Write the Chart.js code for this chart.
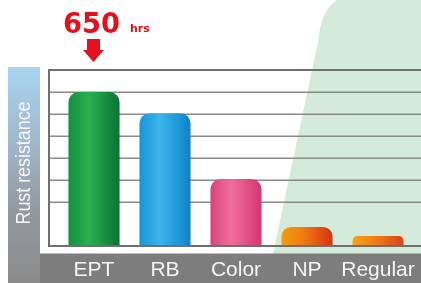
<!DOCTYPE html>
<html>
<head>
<meta charset="utf-8">
<script src="https://cdn.jsdelivr.net/npm/chart.js@4/dist/chart.umd.min.js"></script>
<style>
  html, body { margin: 0; padding: 0; background: #fff; }
  canvas { display: block; }
</style>
</head>
<body>
<canvas id="rustChart" width="421" height="283"></canvas>
<script>
// chart data
const categories = ['EPT', 'RB', 'Color', 'NP', 'Regular'];
const rustHours = [650, 560, 283, 80, 42];
const gridStep = 650 / 7;          // one grid line = 650/7 hrs
const gridCount = 8;
const highlightLabel = '650';
const highlightUnit = 'hrs';
const axisTitle = 'Rust resistance';

// left, middle, right colour of each bar
const barStops = [
  ['#14903f', '#2bb050', '#0a7235'],
  ['#1896d6', '#3cb6ee', '#0c82c8'],
  ['#d8427a', '#ef6f9c', '#d33672'],
  ['#f39c12', '#f07f12', '#d5330f'],
  ['#f5a21a', '#f08516', '#d9431a']
];

const barPct = 0.72;

function barFill(ctx) {
  const chart = ctx.chart;
  const xs = chart.scales.x;
  const i = ctx.dataIndex;
  if (!xs || i === undefined) return barStops[0][1];
  const cx = xs.getPixelForValue(i);
  const half = xs.width / categories.length * barPct / 2;
  if (!isFinite(cx) || !isFinite(half) || half <= 0) return barStops[i][1];
  const g = chart.ctx.createLinearGradient(cx - half, 0, cx + half, 0);
  g.addColorStop(0, barStops[i][0]);
  g.addColorStop(0.4, barStops[i][1]);
  g.addColorStop(1, barStops[i][2]);
  return g;
}

// background, frame, grid and the annotation
const decor = {
  id: 'decor',
  beforeDraw(chart) {
    const c = chart.ctx;
    const W = chart.width, H = chart.height;
    c.save();
    c.fillStyle = '#ffffff';
    c.fillRect(0, 0, W, H);

    // light green area on the right
    c.beginPath();
    c.moveTo(337, 0);
    c.quadraticCurveTo(321, 10, 318, 42);
    c.lineTo(271, 263);
    c.lineTo(271, H);
    c.lineTo(W, H);
    c.lineTo(W, 0);
    c.closePath();
    c.fillStyle = '#d4eadb';
    c.fill();

    // left title strip
    const g = c.createLinearGradient(0, 67, 0, H);
    g.addColorStop(0, '#a8d5f0');
    g.addColorStop(0.35, '#a0b8ca');
    g.addColorStop(0.65, '#9499a0');
    g.addColorStop(1, '#8b8b8b');
    c.fillStyle = g;
    c.fillRect(8, 67, 32, H - 67);

    // bottom band for the labels
    c.fillStyle = '#7d7d7d';
    c.fillRect(40, 253.5, W - 40, H - 253.5);

    // axis title
    c.translate(24, 163);
    c.rotate(-Math.PI / 2);
    c.font = '20px "Liberation Sans", Arial, sans-serif';
    c.textAlign = 'center';
    c.textBaseline = 'middle';
    const w = c.measureText(axisTitle).width;
    c.scale(123 / w, 1);
    c.fillStyle = '#f8f8f8';
    c.fillText(axisTitle, 0, 0);
    c.restore();
  },
  beforeDatasetsDraw(chart) {
    const c = chart.ctx;
    const ys = chart.scales.y;
    c.save();
    c.strokeStyle = '#8a8a8a';
    c.lineWidth = 1.5;
    for (let k = 2; k < gridCount; k++) {
      const y = Math.round(ys.getPixelForValue(k * gridStep)) + 0.25;
      c.beginPath();
      c.moveTo(49, y);
      c.lineTo(chart.width, y);
      c.stroke();
    }
    c.restore();
  },
  afterDatasetsDraw(chart) {
    const c = chart.ctx;
    const ys = chart.scales.y;
    const top = ys.getPixelForValue(gridCount * gridStep);
    const bottom = ys.getPixelForValue(0);
    c.save();
    c.strokeStyle = '#6f6f6f';
    c.lineWidth = 2;
    c.beginPath();
    c.moveTo(chart.width, top);
    c.lineTo(49, top);
    c.lineTo(49, bottom);
    c.lineTo(chart.width, bottom);
    c.stroke();
    c.restore();
  },
  afterDraw(chart) {
    const c = chart.ctx;
    const cx = chart.scales.x.getPixelForValue(0);
    c.save();
    c.fillStyle = '#e3101d';
    // big number
    c.font = 'bold 28px "DejaVu Sans", sans-serif';
    c.textBaseline = 'alphabetic';
    c.textAlign = 'left';
    const nw = c.measureText(highlightLabel).width;
    c.save();
    c.translate(cx - 31, 33);
    c.scale(57 / nw, 1);
    c.fillText(highlightLabel, 0, 0);
    c.restore();
    c.font = 'bold 11px "DejaVu Sans", sans-serif';
    c.fillText(highlightUnit, cx + 36, 32);
    // arrow
    c.beginPath();
    c.moveTo(cx - 7, 39);
    c.lineTo(cx + 6, 39);
    c.lineTo(cx + 6, 50);
    c.lineTo(cx + 10, 50);
    c.lineTo(cx - 0.5, 62);
    c.lineTo(cx - 11, 50);
    c.lineTo(cx - 7, 50);
    c.closePath();
    c.fill();
    c.restore();
  }
};

new Chart(document.getElementById('rustChart'), {
  type: 'bar',
  data: {
    labels: categories,
    datasets: [{
      data: rustHours,
      backgroundColor: barFill,
      borderWidth: 0,
      borderRadius: { topLeft: 10, topRight: 10, bottomLeft: 0, bottomRight: 0 },
      borderSkipped: false,
      barPercentage: barPct,
      categoryPercentage: 1
    }]
  },
  options: {
    responsive: false,
    animation: false,
    layout: { padding: { left: 58.5, right: 7.5, top: 70, bottom: 0 } },
    plugins: { legend: { display: false }, tooltip: { enabled: false } },
    scales: {
      x: {
        grid: { display: false, drawTicks: false },
        border: { display: false },
        ticks: {
          color: '#f6f6f6',
          padding: 0,
          autoSkip: false,
          maxRotation: 0,
          font: { family: '"Liberation Sans", Arial, sans-serif', size: 21, lineHeight: 2.33 }
        },
        afterFit(axis) { axis.height = 37; }
      },
      y: {
        display: false,
        min: 0,
        max: gridCount * gridStep
      }
    }
  },
  plugins: [decor]
});
</script>
</body>
</html>
